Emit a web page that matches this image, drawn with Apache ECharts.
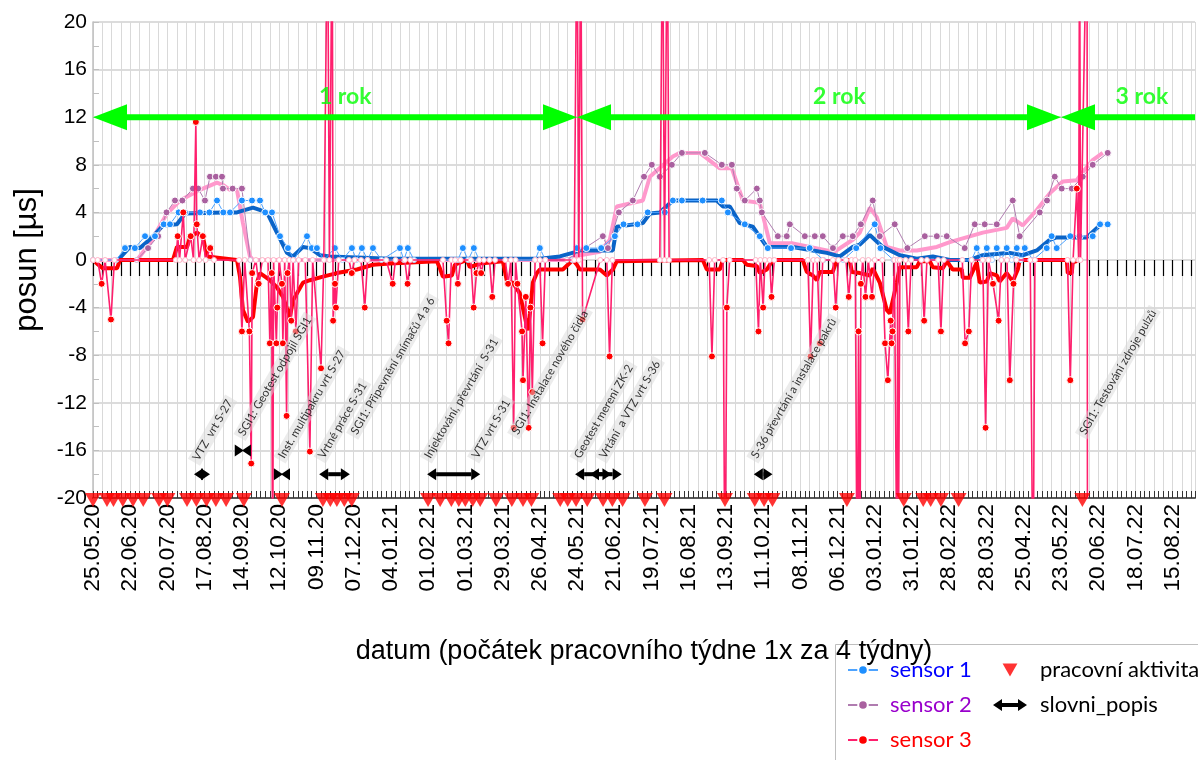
<!DOCTYPE html>
<html><head><meta charset="utf-8">
<script src="https://cdn.jsdelivr.net/npm/echarts@6.0.0/dist/echarts.min.js"></script>
<style>html,body{margin:0;padding:0;background:#fff}#c{width:1198px;height:760px}</style>
</head><body><div id="c"></div>
<script>
// x values are weeks since 25.05.20
const tickLabels = ['25.05.20','22.06.20','20.07.20','17.08.20','14.09.20','12.10.20','09.11.20','07.12.20','04.01.21','01.02.21','01.03.21','29.03.21','26.04.21','24.05.21','21.06.21','19.07.21','16.08.21','13.09.21','11.10.21','08.11.21','06.12.21','03.01.22','31.01.22','28.02.22','28.03.22','25.04.22','23.05.22','20.06.22','18.07.22','15.08.22'];
const xMax = 118.4;

const sensor1Raw = [[0,0],[2.5,0],[3.44,1],[4.5,1],[5.59,2],[6.66,2],[7.6,3],[8.27,3],[9.2,4],[9.88,4],[11.49,4],[12.5,4],[13.32,5],[14.0,4],[14.72,4],[16.0,5],[17.08,5],[17.94,5],[18.5,4],[19.23,4],[20.09,2],[20.95,1],[21.6,0],[22.99,2],[23.5,1],[24.06,1],[24.8,0],[25.99,1],[26.8,0],[27.82,1],[28.3,0],[28.89,1],[29.5,0],[30.08,1],[31.0,0],[32.98,1],[33.4,0],[33.83,1],[34.5,0],[39.2,0],[39.74,1],[40.3,0],[40.92,1],[41.5,0],[47.5,0],[48.01,1],[48.6,0],[51.5,0],[51.99,1],[53.0,1],[54.6,1],[56.07,2],[57.0,3],[58.5,3],[59.6,4],[61.44,4],[62.3,5],[63.27,5],[65.5,5],[67.56,5],[68.21,4],[70.03,3],[71.64,2],[72.5,1],[75.0,1],[77.0,1],[78.5,0],[80.6,0],[82.0,1],[83.99,3],[84.6,1],[86.0,0],[94.4,0],[94.95,1],[95.5,0],[96.03,1],[96.6,0],[97.1,1],[97.6,0],[98.17,1],[98.7,0],[99.25,1],[99.7,0],[100.11,1],[101.0,0],[102.47,1],[103.0,2],[103.54,1],[105.0,2],[106.0,2],[107.41,2],[108.2,3],[109.02,3]];

const sensor2Raw = [[0,0],[4.7,0],[5.91,1],[7.0,2],[7.9,4],[8.81,5],[9.6,5],[10.74,6],[11.3,6],[12.03,5],[12.57,7],[13.2,7],[13.86,7],[13.96,6],[15.0,6],[16.0,6],[16.9,0],[50.9,0],[54.78,2],[55.32,1],[56.5,4],[58.0,5],[59.2,7],[60.04,8],[60.9,7],[62.19,8],[63.27,9],[65.74,9],[67.56,8],[68.64,8],[69.17,6],[70.03,5],[71.32,6],[71.64,5],[71.86,4],[73.58,2],[74.54,2],[74.87,3],[76.48,2],[77.55,2],[78.41,2],[79.5,1],[80.56,2],[81.63,2],[82.5,3],[83.78,5],[84.53,2],[86.14,3],[87.5,1],[89.37,2],[90.66,2],[91.73,2],[93.66,1],[94.74,3],[95.81,3],[97.1,3],[98.82,5],[99.57,2],[101.72,4],[102.5,5],[103.33,7],[104.08,6],[105.16,6],[106.34,7],[107.41,8],[109.02,9]];

const sensor3Raw = [[0,0],[0.5,0],[0.93,-2],[1.3,0],[1.93,-5],[2.3,0],
[8.9,0],[9.1,2],[9.3,0],[9.7,4],[9.9,0],[10.5,2],[10.8,0],[11.05,11.6],[11.15,3],[11.4,0],[11.8,2],[12.1,0],[12.6,1],[13.0,0],
[15.7,0],[16.0,-6],[16.3,0],[16.8,-6],[17.0,-17.1],[17.1,-1.1],[17.5,0],[17.8,-2],[18.2,0],[18.8,0],[19.0,-7],[19.2,-1.1],[19.3,-30],[19.4,0],[19.7,-7],[19.8,-4],[20.0,0],[20.3,-2],[20.4,-7],[20.6,0],[20.8,-13.1],[20.9,-1.1],[21.1,0],[21.3,-5.1],[21.5,0],[21.8,-6],[22.1,0],[22.8,0],[23.3,-16.1],[23.6,0],[24.5,-9.1],[24.8,0],[25.2,30],[25.4,0],[25.7,30],[25.8,-5.1],[26.0,-2],[26.1,-4],[26.4,0],[27.5,0],[27.8,-1.1],[28.1,0],[28.8,0],[29.2,-4],[29.5,0],
[31.5,0],[32.2,-2],[32.5,0],[33.5,0],[33.8,-2],[34.1,0],
[37.6,0],[38.0,-5.1],[38.2,-7],[38.5,0],[38.9,0],[39.2,-2],[39.5,0],[40.6,0],[40.9,-4],[41.2,-1.1],[41.5,0],[41.7,-1.1],[42.0,0],[42.6,0],[42.9,-3.1],[43.2,0],[44.3,0],[44.6,-2],[44.9,0],[45.2,-14.1],[45.4,0],[45.6,-2],[46.1,-6],[46.2,-10.1],[46.5,-3.1],[46.8,-14.1],[47.0,-4],[47.2,-11.1],[47.5,0],[48.0,0],[48.3,-7],[48.6,0],
[51.7,0],[52.0,30],[52.2,0],[52.4,30],[52.6,-5],[54.5,0],[55.2,0],[55.5,-8.1],[55.8,0],
[60.9,0],[61.2,30],[61.4,0],[61.7,30],[61.9,0],
[66.2,0],[66.5,-8.1],[66.8,0],[67.7,0],[67.9,-30],[68.1,-4],[68.4,0],
[71.2,0],[71.5,-6],[71.7,0],[72.0,-4],[72.2,0],[72.7,0],[72.9,-3.1],[73.2,0],
[76.8,0],[77.1,-8.1],[77.4,0],[77.8,0],[78.1,-7],[78.4,0],[79.5,0],[79.8,-4],[80.1,0],[80.9,0],[81.2,-3.1],[81.5,0],[81.9,0],[82.1,-30],[82.25,-6],[82.4,-30],[82.5,-2],[82.7,0],[83.0,-3.1],[83.3,0],[83.7,-3.1],[84.0,0],[84.8,0],[85.1,-7],[85.4,-10.1],[85.7,-5.1],[85.8,-7],[85.9,-6],[86.1,0],[86.4,-30],[86.45,0],[86.5,-30],[86.7,0],
[87.3,0],[87.6,-6],[87.9,0],[89.0,0],[89.3,-5.1],[89.6,0],[90.8,0],[91.1,-6],[91.4,0],
[93.4,0],[93.7,-7],[94.1,-6],[94.4,0],[95.6,0],[95.9,-14.1],[96.2,0],[96.7,-2],[97.3,-5.1],[97.6,0],[98.2,0],[98.5,-10.1],[98.9,-2],[99.2,0],
[100.7,0],[101.0,-30],[101.2,0],
[104.7,0],[105.0,-10.1],[105.3,0],[105.7,6],[105.9,0],[106.0,30],[106.1,0],[106.8,30],[106.85,-30]];

const sensor1Avg = [[2.69,0],[3.97,1.1],[5.05,1],[6.34,1.9],[7.52,2.9],[9.02,3],[9.88,3.9],[13.96,4],[15.47,4],[17.19,4.4],[18.69,4],[19.76,2.3],[20.84,0.6],[21.48,0.3],[22.56,1.1],[23.31,1],[24.38,0.4],[25.46,0.3],[31.9,0.1],[48.01,0.1],[50.16,0.3],[51.99,0.7],[52.31,0.8],[55.85,0.8],[56.28,2.8],[59.08,3.1],[59.83,3.9],[60.9,4],[62.3,5],[67.03,5],[67.67,4.5],[68.42,4.5],[69.49,3.1],[70.89,2.8],[72.4,1.1],[75.19,1.1],[77.34,0.8],[78.84,0.6],[80.24,0.3],[81.63,1.1],[82.39,1.3],[83.46,2.1],[84.85,1.1],[86.68,0.4],[88.51,0.1],[90.23,0.3],[92.05,0],[94.2,0],[95.6,0.4],[98.5,0.6],[99.89,0.4],[101.4,0.8],[102.79,1.7],[103.54,1.9],[106.77,1.9],[108.16,2.9]];

const sensor2Avg = [[0,0],[4.73,0],[6.12,1.4],[7.95,3.9],[9.34,5],[11.49,5.9],[13.32,6.5],[13.96,6.3],[14.72,5.9],[15.47,5.9],[16.11,3.1],[16.86,0.3],[17.2,0],[50.91,0],[52.31,0.4],[54.46,0.7],[55.53,1.7],[56.28,4.5],[59.08,5],[59.83,7],[62.3,8.7],[63.05,9],[65.2,9],[67.35,7.7],[68.64,7.7],[69.82,5],[71.64,4.8],[72.72,1.4],[75.19,1.4],[78.84,0.8],[79.48,0.6],[81.63,1.7],[82.39,2.3],[83.46,4.4],[84.21,3.6],[85.28,1.1],[86.68,0.8],[88.51,0.8],[90.66,1.1],[92.05,1.5],[95.6,2.3],[98.17,2.7],[98.82,3.5],[99.89,2.9],[101.4,4.2],[102.79,5.6],[104.19,6.6],[105.69,6.7],[106.34,7.4],[107.41,8.4],[108.49,9]];

const sensor3Avg = [[0,0],[0.43,-0.3],[1.07,-0.7],[2.58,-0.7],[2.9,0],[8.59,0],[9.02,1.1],[10.1,1.1],[10.42,1.9],[11.17,2.3],[11.82,1.9],[12.24,0.3],[15.47,0],[15.79,-1.4],[16.11,-4.2],[16.65,-5.2],[17.19,-4.8],[17.62,-1.9],[17.94,-1.1],[19.01,-1.7],[19.76,-2.3],[20.41,-3.1],[21.16,-4.8],[21.48,-3.4],[22.56,-1.9],[23.31,-1.7],[24.71,-1.4],[26.21,-1.1],[28.36,-0.8],[30.08,-0.4],[31.9,-0.3],[36.95,-0.1],[37.27,-0.7],[37.59,-1.4],[38.56,-1.3],[38.88,-0.4],[40.17,0],[40.49,-0.6],[41.57,-0.3],[44.04,-0.1],[44.47,-1.8],[45.11,-1.9],[45.86,-2.8],[46.4,-4.8],[46.72,-5.9],[46.94,-4.5],[47.26,-1.9],[47.69,-1.1],[48.01,-0.8],[50.48,-0.8],[51.56,0],[51.99,-0.4],[52.31,-0.8],[54.46,-0.8],[55.21,-1.3],[55.85,-0.8],[56.28,-0.1],[65.52,0],[65.95,-0.8],[67.35,-0.8],[67.67,0],[69.82,0],[70.25,-0.4],[71.32,-0.5],[71.64,-1.1],[72.4,-0.8],[73.04,0],[76.26,0],[76.69,-1],[77.34,-1.3],[77.77,-1.7],[78.09,-1],[79.48,-1],[79.91,0],[81.31,0],[81.53,-1],[82.39,-1.1],[83.46,-1.3],[83.78,-0.7],[84.53,-1.9],[85.28,-4.2],[85.61,-4.5],[85.93,-3.4],[86.36,-1.9],[86.68,-0.6],[88.51,-0.6],[88.83,-0.1],[89.9,-0.1],[90.23,-0.6],[91.3,-0.7],[91.73,-0.1],[92.37,-0.8],[93.34,-0.8],[93.45,-1.5],[94.2,-1.5],[94.95,-0.2],[95.27,-1.9],[96.03,-1.8],[96.35,-1.1],[97.1,-1.3],[97.42,-1.8],[98.17,-1.1],[98.82,-1.8],[99.36,-0.8],[99.57,0],[104.62,0],[104.73,-1.1],[105.16,-1.1],[105.26,-0.2],[106.02,0]];

const activityWeeks = [0,1.5,2.2,3.2,4.3,5.4,7.1,8.0,10.1,11.1,12.2,13.2,14.3,16.2,20.3,24.7,25.5,26.2,27.0,27.8,36.0,37.3,38.5,39.3,40.0,40.8,41.6,43.3,45.0,46.2,47.1,50.2,51.0,51.9,53.1,54.8,55.8,56.9,59.3,61.4,67.9,71.1,72.1,73.0,81.0,87.1,89.2,90.0,91.1,93.0,106.3];
const activityLevel = -20;

const popisStart = [10.85,16.0,20.2,24.3,35.9,51.8,53.4,71.0];
const popisEnd   = [12.57,16.2,20.4,27.6,41.6,55.7,56.8,73.0];
const popisLevel = [-18,-16,-18,-18,-18,-18,-18,-18];

const noteTexts = ['VTZ  vrt S-27','SGI1: Geotest odpojil SGI1','Inst. multipakru vrt S-27','Vrtné práce S-31','SGI1: Připevnění snímačů 4 a 6','Injektování, převrtání  S-31','VTZ vrt S-31','SGI1: Instalace nového čidla','Geotest mereni ZK-2','Vrtání  a VTZ vrt S-36','S-36 převrtání a instalace pakrů','SGI1: Testování zdroje pulzů'];
const noteWeeks = [11.5,16.4,20.7,25.0,28.5,36.4,41.5,45.8,52.5,55.2,71.5,106.8];
const noteLevels = [-17.3,-15.2,-17.1,-17.1,-15.1,-17.1,-17.1,-15.1,-17.1,-17.1,-17.1,-15.1];

const yearStart = [0,52,104];
const yearEnd = [52,104,xMax];
const yearRightHead = [1,1,0];
const yearLevel = 12;
const yearTexts = ['1 rok','2 rok','3 rok'];
const yearTextWeeks = [27.1,80.2,112.7];
const yearTextLevel = 13.7;

function rawData(arr, zeroBorder) {
  return arr.map(function (p) {
    const v = p[1];
    if (Math.abs(v) > 20) return {value: p, symbol: 'none'};
    if (v === 0) return {value: p, symbolSize: 5, itemStyle: {color: '#fff', borderColor: zeroBorder, borderWidth: 1}};
    return {value: p};
  });
}

function arrowRenderer(headLen, headHalf, shaft, color) {
  return function (params, api) {
    const lvl = api.value(2);
    const a = api.coord([api.value(0), lvl]);
    const b = api.coord([api.value(1), lvl]);
    const hasL = api.value(3), hasR = api.value(4);
    const y = a[1];
    const children = [];
    const x0 = hasL ? a[0] + headLen : a[0];
    const x1 = hasR ? b[0] - headLen : b[0];
    if (x1 > x0) children.push({type: 'line', shape: {x1: x0, y1: y, x2: x1, y2: y}, style: {stroke: color, lineWidth: shaft}});
    if (hasL) children.push({type: 'polygon', shape: {points: [[a[0], y], [a[0] + headLen, y - headHalf], [a[0] + headLen, y + headHalf]]}, style: {fill: color}});
    if (hasR) children.push({type: 'polygon', shape: {points: [[b[0], y], [b[0] - headLen, y - headHalf], [b[0] - headLen, y + headHalf]]}, style: {fill: color}});
    return {type: 'group', children: children};
  };
}

const triPath = 'path://M0,0 L16,0 L8,14 Z';
const arrowIcon = 'path://M0,6 L9,0 L9,4 L25,4 L25,0 L34,6 L25,12 L25,8 L9,8 L9,12 Z';

const chart = echarts.init(document.getElementById('c'));
chart.setOption({
  animation: false,
  backgroundColor: '#fff',
  grid: {left: 93, right: 3, top: 22, bottom: 262, containLabel: false, outerBoundsMode: 'none'},
  xAxis: [{
    type: 'value', min: 0, max: xMax, interval: 1, position: 'bottom',
    axisLine: {show: false},
    axisTick: {show: true, length: 16, lineStyle: {color: '#000', width: 1.2}},
    axisLabel: {
      rotate: 90, fontSize: 22.5, color: '#000', fontFamily: 'Liberation Sans', margin: 6,
      showMinLabel: true, showMaxLabel: false,
      formatter: function (v) {
        const r = Math.round(v);
        if (Math.abs(v - r) > 1e-6 || r % 4 !== 0) return '';
        return tickLabels[r / 4] || '';
      }
    },
    splitLine: {show: true, lineStyle: {color: '#d9d9d9', width: 1}},
    name: 'datum (počátek pracovního týdne 1x za 4 týdny)', nameLocation: 'middle', nameGap: 140,
    nameTextStyle: {fontSize: 27, color: '#000', fontFamily: 'Liberation Sans'}
  }, {
    type: 'value', min: 0, max: xMax, interval: 1, position: 'bottom',
    axisLine: {show: true, lineStyle: {color: '#595959', width: 2}},
    axisTick: {show: true, inside: true, length: 7, lineStyle: {color: '#333', width: 1}},
    minorTick: {show: true, splitNumber: 2, length: 7, lineStyle: {color: '#333', width: 1}},
    axisLabel: {show: false}, splitLine: {show: false}
  }],
  yAxis: {
    type: 'value', min: -20, max: 20, interval: 4,
    axisLine: {show: true, lineStyle: {color: '#bfbfbf', width: 1.5}},
    axisTick: {show: true, inside: true, length: 6, lineStyle: {color: '#bfbfbf'}},
    minorTick: {show: true, splitNumber: 2, length: 6, lineStyle: {color: '#bfbfbf'}},
    axisLabel: {fontSize: 21, color: '#000', margin: 6, fontFamily: 'Liberation Sans'},
    splitLine: {lineStyle: {color: '#d0d0d0', width: 1.5}},
    name: 'posun [µs]', nameLocation: 'middle', nameGap: 50,
    nameTextStyle: {fontSize: 31, color: '#000', fontFamily: 'Liberation Sans'}
  },
  legend: [{
    orient: 'vertical', left: 847, top: 658, padding: 0, itemWidth: 30, itemHeight: 12, itemGap: 11,
    textStyle: {fontSize: 22, fontFamily: 'Lato', lineHeight: 24, padding: [0, 0, 0, 7]},
    data: [
      {name: 'sensor 1', textStyle: {color: '#0000ff'}},
      {name: 'sensor 2', textStyle: {color: '#9900cc'}},
      {name: 'sensor 3', textStyle: {color: '#ff0000'}}
    ]
  }, {
    orient: 'vertical', left: 993, top: 658, padding: 0, itemWidth: 34, itemHeight: 13, itemGap: 11,
    textStyle: {fontSize: 22, fontFamily: 'Lato', lineHeight: 24, color: '#000', padding: [0, 0, 0, 8]},
    data: [
      {name: 'pracovní aktivita', icon: triPath},
      {name: 'slovni_popis', icon: arrowIcon}
    ]
  }],
  graphic: [{type: 'rect', left: 833, top: 642, shape: {width: 370, height: 130}, style: {fill: 'none', stroke: '#bfbfbf', lineWidth: 1}, z: -1}],
  series: [
    {name: 'avg2', type: 'line', data: sensor2Avg, showSymbol: false, lineStyle: {color: '#ff99cc', width: 4}, itemStyle: {color: '#ff99cc'}, z: 2},
    {name: 'avg1', type: 'line', data: sensor1Avg, showSymbol: false, lineStyle: {color: '#0a64c8', width: 4}, itemStyle: {color: '#0a64c8'}, z: 2},
    {name: 'avg3', type: 'line', data: sensor3Avg, showSymbol: false, lineStyle: {color: '#ff0000', width: 4}, itemStyle: {color: '#ff0000'}, z: 2},
    {name: 'sensor 2', type: 'line', data: rawData(sensor2Raw, '#d9b3d3'), symbol: 'circle', symbolSize: 7,
      lineStyle: {color: '#b07cb0', width: 1}, itemStyle: {color: '#a9609f', borderColor: '#fff', borderWidth: 1}, z: 3},
    {name: 'sensor 1', type: 'line', data: rawData(sensor1Raw, '#a8d0ff'), symbol: 'circle', symbolSize: 7,
      lineStyle: {color: '#4da3ff', width: 1}, itemStyle: {color: '#1e8fff', borderColor: '#fff', borderWidth: 1}, z: 3},
    {name: 'sensor 3', type: 'line', data: rawData(sensor3Raw, '#ffb3c6'), symbol: 'circle', symbolSize: 7,
      lineStyle: {color: '#ff1f6d', width: 1.6}, itemStyle: {color: '#ff0000', borderColor: '#fff', borderWidth: 1}, z: 4},
    {name: 'pracovní aktivita', type: 'scatter', data: activityWeeks.map(function (w) { return [w, activityLevel]; }),
      symbol: triPath, symbolSize: [16, 14], symbolOffset: [0, 2], itemStyle: {color: '#ff0000'}, z: 5},
    {name: 'slovni_popis', type: 'custom', renderItem: arrowRenderer(9, 6, 4, '#000'),
      data: popisStart.map(function (s, i) { return [s, popisEnd[i], popisLevel[i], 1, 1]; }),
      encode: {x: [0, 1], y: 2}, itemStyle: {color: '#000'}, z: 6},
    {name: 'roky', type: 'custom', renderItem: arrowRenderer(34, 13, 6, '#00ff00'),
      data: yearStart.map(function (s, i) { return [s, yearEnd[i], yearLevel, 1, yearRightHead[i]]; }),
      encode: {x: [0, 1], y: 2}, z: 6},
    {name: 'rokText', type: 'scatter', data: yearTextWeeks.map(function (w) { return [w, yearTextLevel]; }),
      symbolSize: 1, itemStyle: {color: 'rgba(0,0,0,0)'},
      label: {show: true, position: 'inside', formatter: function (p) { return yearTexts[p.dataIndex]; },
        fontSize: 23, fontWeight: 'bold', color: '#00ff00', fontFamily: 'Lato'}, z: 7},
    {name: 'notes', type: 'scatter', data: noteWeeks.map(function (w, i) { return [w, noteLevels[i]]; }),
      symbolSize: 1, itemStyle: {color: 'rgba(0,0,0,0)'},
      label: {show: true, position: 'inside', rotate: 60, align: 'left', verticalAlign: 'bottom',
        formatter: function (p) { return noteTexts[p.dataIndex]; },
        fontSize: 11.5, fontFamily: 'Lato', color: '#000', backgroundColor: 'rgba(215,215,215,0.6)', padding: [1, 3, 1, 3]}, z: 7}
  ]
});
</script>
</body></html>
